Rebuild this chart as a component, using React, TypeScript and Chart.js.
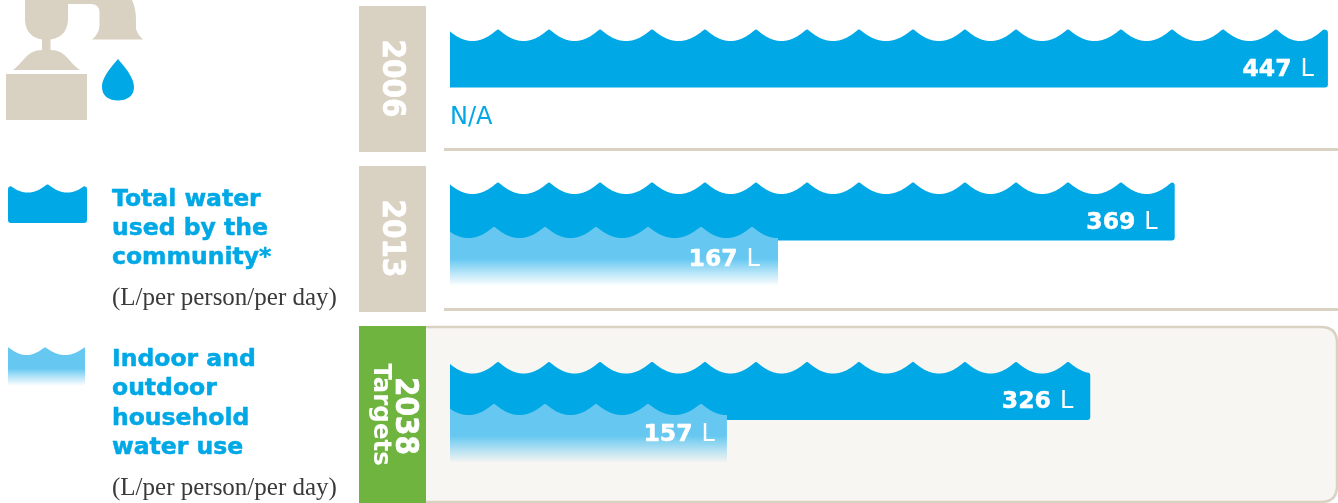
import React, { useEffect, useRef } from "react";
import { Chart, registerables } from "chart.js";

Chart.register(...registerables);

const years = ["2006", "2013", "2038"];
const totalWater = [447, 369, 326];
// The reference labels its last indoor bar 157 but draws it only as long as 141 on the shared scale.
const indoorBarLength = [null, 167, 141];
const indoorLabels = ["", "167", "157"];
const legendTitles = [
  ["Total water", "used by the", "community*"],
  ["Indoor and", "outdoor", "household", "water use"],
];
const unitNote = "(L/per person/per day)";

const W = 1338;
const H = 503;
const BLUE = "#00A8E5";
const TAN = "#D9D1C2";
const GREEN = "#6EB43F";
const PANEL = "#F7F6F2";
const SANS = '"DejaVu Sans", sans-serif';
const SERIF = '"Liberation Serif", serif';

const totalShift = [-21.5, -28.5, -9];
const indoorShift = [0, 16, 33];
const totalLabelInset = [14, 17, 17];
const indoorLabelInset = [0, 18, 12];
const indoorLabelDrop = [0, 39, 37];
const BAR_H = 58;
const pitches = [51, 51, 51, 52, 53, 51, 51, 52, 54, 52, 51, 52, 53, 51, 51, 53, 48, 52, 52];

function crestsFrom(start: number) {
  const out = [start];
  pitches.forEach((p) => out.push(out[out.length - 1] + p));
  return out;
}

function waveDepth(x: number, crests: number[], depth: number) {
  let i = 0;
  while (i < crests.length - 2 && x > crests[i + 1]) i++;
  const t = Math.min(1, Math.max(0, (x - crests[i]) / (crests[i + 1] - crests[i])));
  const d = depth * 4 * t * (1 - t);
  return Math.sqrt(d * d + 1);
}

function wavePath(
  ctx: CanvasRenderingContext2D,
  x0: number,
  x1: number,
  top: number,
  bottom: number,
  crests: number[],
  depth: number,
  rLeft: number,
  rRight: number
) {
  const y = (x: number) => top + waveDepth(x, crests, depth);
  ctx.beginPath();
  ctx.moveTo(x0, bottom - rLeft);
  if (rLeft > 0) {
    ctx.lineTo(x0, y(x0 + rLeft) + rLeft);
    ctx.quadraticCurveTo(x0, y(x0 + rLeft), x0 + rLeft, y(x0 + rLeft));
  } else {
    ctx.lineTo(x0, y(x0));
  }
  for (let x = x0 + rLeft + 0.5; x < x1 - rRight; x += 0.5) ctx.lineTo(x, y(x));
  const ye = y(x1 - rRight);
  ctx.lineTo(x1 - rRight, ye);
  if (rRight > 0) {
    ctx.quadraticCurveTo(x1, ye, x1, ye + rRight);
    ctx.lineTo(x1, bottom - rRight);
    ctx.quadraticCurveTo(x1, bottom, x1 - rRight, bottom);
  } else {
    ctx.lineTo(x1, bottom);
  }
  if (rLeft > 0) {
    ctx.lineTo(x0 + rLeft, bottom);
    ctx.quadraticCurveTo(x0, bottom, x0, bottom - rLeft);
  } else {
    ctx.lineTo(x0, bottom);
  }
  ctx.closePath();
}

function fadeFill(ctx: CanvasRenderingContext2D, top: number, bottom: number) {
  const g = ctx.createLinearGradient(0, top, 0, bottom);
  g.addColorStop(0, "rgba(102,200,241,1)");
  g.addColorStop(0.55, "rgba(102,200,241,1)");
  g.addColorStop(0.8, "rgba(102,200,241,0.42)");
  g.addColorStop(1, "rgba(102,200,241,0)");
  return g;
}

function heavyText(
  ctx: CanvasRenderingContext2D,
  text: string,
  x: number,
  y: number,
  color: string,
  extra: number
) {
  ctx.fillStyle = color;
  ctx.fillText(text, x, y);
  if (extra > 0) {
    ctx.strokeStyle = color;
    ctx.lineWidth = extra;
    ctx.lineJoin = "round";
    ctx.strokeText(text, x, y);
  }
}

function rotatedText(
  ctx: CanvasRenderingContext2D,
  text: string,
  cx: number,
  cy: number,
  font: string,
  extra: number,
  tall: number
) {
  ctx.save();
  ctx.translate(cx, cy);
  ctx.rotate(Math.PI / 2);
  ctx.scale(1, tall);
  ctx.font = font;
  ctx.textAlign = "center";
  ctx.textBaseline = "middle";
  heavyText(ctx, text, 0, 0, "#FFFFFF", extra);
  ctx.restore();
}

function drawFaucet(ctx: CanvasRenderingContext2D) {
  ctx.fillStyle = TAN;
  ctx.beginPath();
  ctx.moveTo(25, 0);
  ctx.lineTo(132, 0);
  ctx.quadraticCurveTo(136, 9, 136, 20);
  ctx.lineTo(136, 29);
  ctx.quadraticCurveTo(138, 35, 143, 39.5);
  ctx.lineTo(92, 39.5);
  ctx.quadraticCurveTo(99, 34, 99.5, 26);
  ctx.lineTo(99.5, 12);
  ctx.quadraticCurveTo(99, 4, 91, 4);
  ctx.lineTo(68, 4);
  ctx.lineTo(68, 20);
  ctx.quadraticCurveTo(67, 37, 50.5, 39.5);
  ctx.lineTo(50.5, 50);
  ctx.bezierCurveTo(66, 50, 68, 62, 80, 70);
  ctx.lineTo(13, 70);
  ctx.bezierCurveTo(24, 62, 27, 50, 42, 50);
  ctx.lineTo(42, 39.5);
  ctx.quadraticCurveTo(26, 37, 25, 20);
  ctx.closePath();
  ctx.fill();
  ctx.fillRect(6, 74, 81, 46);

  ctx.fillStyle = BLUE;
  ctx.beginPath();
  ctx.moveTo(118, 59);
  ctx.bezierCurveTo(122, 64, 134, 76, 134, 87);
  ctx.bezierCurveTo(134, 96, 127, 100.5, 118, 100.5);
  ctx.bezierCurveTo(109, 100.5, 102, 96, 102, 87);
  ctx.bezierCurveTo(102, 76, 114, 64, 118, 59);
  ctx.closePath();
  ctx.fill();
}

const backdrop = {
  id: "backdrop",
  beforeDatasetsDraw(chart: any) {
    const ctx: CanvasRenderingContext2D = chart.ctx;
    ctx.save();

    // target panel: open on the side of the green tab
    ctx.beginPath();
    ctx.moveTo(426, 327);
    ctx.lineTo(1321, 327);
    ctx.quadraticCurveTo(1337, 327, 1337, 343);
    ctx.lineTo(1337, 486);
    ctx.quadraticCurveTo(1337, 502, 1321, 502);
    ctx.lineTo(426, 502);
    ctx.fillStyle = PANEL;
    ctx.fill();
    ctx.strokeStyle = TAN;
    ctx.lineWidth = 2.5;
    ctx.stroke();

    // separators
    ctx.fillStyle = TAN;
    ctx.fillRect(444, 148, 894, 3);
    ctx.fillRect(444, 308, 894, 3);

    // year tabs
    ctx.fillStyle = TAN;
    ctx.fillRect(359, 6, 67, 146);
    ctx.fillRect(359, 166, 67, 146);
    ctx.fillStyle = GREEN;
    ctx.fillRect(359, 326, 67, 177);
    const yearFont = `bold 28px ${SANS}`;
    rotatedText(ctx, years[0], 391.5, 78.5, yearFont, 0.6, 1.12);
    rotatedText(ctx, years[1], 391.5, 238.5, yearFont, 0.6, 1.12);
    rotatedText(ctx, years[2], 404.5, 416, yearFont, 0.6, 1.12);
    rotatedText(ctx, "Targets", 380, 414.5, `bold 24.5px ${SANS}`, 0, 1);

    drawFaucet(ctx);

    // legend swatches
    ctx.fillStyle = BLUE;
    wavePath(ctx, 8, 87, 183.5, 223, [8, 47.5, 87], 9, 3, 3);
    ctx.fill();
    ctx.fillStyle = fadeFill(ctx, 347, 386);
    wavePath(ctx, 8, 85, 346.5, 386, [8, 45, 85], 8.5, 0, 0);
    ctx.fill();

    // legend text
    ctx.textAlign = "left";
    ctx.textBaseline = "alphabetic";
    ctx.font = `bold 23.5px ${SANS}`;
    legendTitles[0].forEach((t, i) => heavyText(ctx, t, 112, 206 + i * 29, BLUE, 0.5));
    legendTitles[1].forEach((t, i) => heavyText(ctx, t, 112, 366 + i * 29.3, BLUE, 0.5));
    ctx.fillStyle = "#3A3A3A";
    ctx.font = `25px ${SERIF}`;
    ctx.fillText(unitNote, 112, 305);
    ctx.fillText(unitNote, 112, 495);

    // no indoor figure for the first year
    ctx.fillStyle = BLUE;
    ctx.font = `24px ${SANS}`;
    ctx.fillText("N/A", 450, 124);
    ctx.restore();
  },
  beforeDatasetDraw(chart: any, args: any) {
    const ctx: CanvasRenderingContext2D = chart.ctx;
    const ds = chart.data.datasets[args.index];
    const isTotal = args.index === 0;
    ctx.save();
    args.meta.data.forEach((el: any, i: number) => {
      if (ds.data[i] == null) return;
      const shift = isTotal ? totalShift[i] : indoorShift[i];
      const top = el.y + shift - BAR_H / 2 - 1;
      const bottom = el.y + shift + BAR_H / 2;
      if (isTotal) {
        ctx.fillStyle = BLUE;
        wavePath(ctx, el.base, el.x, top, bottom, crestsFrom(el.base - 3), 12.5, 0, 3);
      } else {
        ctx.fillStyle = fadeFill(ctx, top, bottom + 1);
        wavePath(ctx, el.base, el.x, top, bottom + 1, crestsFrom(el.base - 7), 12, 0, 0);
      }
      ctx.fill();
    });
    ctx.restore();
    return false;
  },
  afterDatasetsDraw(chart: any) {
    const ctx: CanvasRenderingContext2D = chart.ctx;
    ctx.save();
    ctx.textBaseline = "alphabetic";
    ctx.textAlign = "right";
    const put = (num: string, right: number, base: number) => {
      ctx.font = `24px ${SANS}`;
      ctx.fillStyle = "#FFFFFF";
      ctx.fillText("L", right, base);
      const lw = ctx.measureText("L").width;
      ctx.font = `bold 23.5px ${SANS}`;
      heavyText(ctx, num, right - lw - 9, base, "#FFFFFF", 0.5);
    };
    const totals = chart.getDatasetMeta(0).data;
    const indoor = chart.getDatasetMeta(1).data;
    totals.forEach((el: any, i: number) => {
      const bottom = el.y + totalShift[i] + BAR_H / 2;
      put(String(totalWater[i]), el.x - totalLabelInset[i], bottom - 12);
    });
    indoor.forEach((el: any, i: number) => {
      if (indoorBarLength[i] == null) return;
      const top = el.y + indoorShift[i] - BAR_H / 2;
      put(indoorLabels[i], el.x - indoorLabelInset[i], top + indoorLabelDrop[i]);
    });
    ctx.restore();
  },
};

export default function App() {
  const ref = useRef<HTMLCanvasElement>(null);
  useEffect(() => {
    if (!ref.current) return;
    const chart = new Chart(ref.current, {
      type: "bar",
      data: {
        labels: years,
        datasets: [
          { label: "Total water used by the community", data: totalWater, backgroundColor: BLUE, order: 2, grouped: false, barThickness: BAR_H } as any,
          { label: "Indoor and outdoor household water use", data: indoorBarLength, backgroundColor: "#66C8F1", order: 1, grouped: false, barThickness: BAR_H } as any,
        ],
      },
      options: {
        indexAxis: "y",
        responsive: false,
        animation: false,
        devicePixelRatio: 1,
        layout: { padding: { left: 450, right: 0, top: 0, bottom: 23 } },
        plugins: { legend: { display: false }, tooltip: { enabled: false } },
        scales: {
          x: { type: "linear", display: false, min: 0, max: 888 / 1.964 },
          y: { type: "category", display: false },
        },
      },
      plugins: [backdrop],
    });
    return () => chart.destroy();
  }, []);
  return (
    <div style={{ position: "absolute", left: 0, top: 0, width: W, height: H, background: "#FFFFFF" }}>
      <canvas ref={ref} width={W} height={H} style={{ display: "block" }} />
    </div>
  );
}
